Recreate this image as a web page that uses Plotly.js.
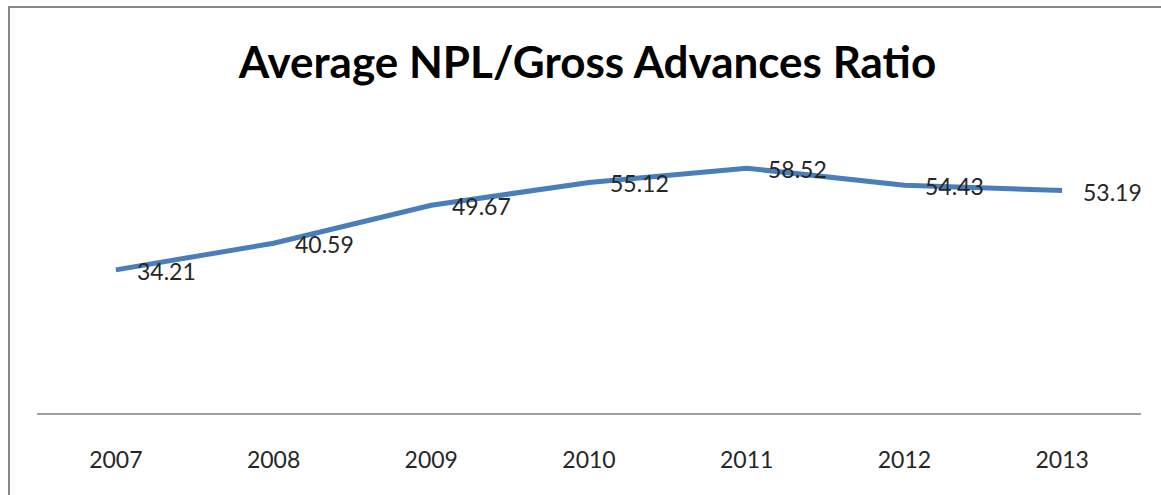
<!DOCTYPE html>
<html>
<head>
<meta charset="utf-8">
<script src="https://cdn.plot.ly/plotly-3.0.1.min.js"></script>
<style>
  html, body { margin: 0; padding: 0; background: #fff; }
  #wrap { position: relative; width: 1161px; height: 495px; overflow: hidden; }
  #chart { position: absolute; left: 0; top: 0; width: 1161px; height: 495px; }
  #frame { position: absolute; left: 8px; top: 6px; width: 1200px; height: 600px;
           border-left: 2px solid #878787; border-top: 2px solid #878787; pointer-events: none; }
</style>
</head>
<body>
<div id="wrap">
  <div id="chart"></div>
  <div id="frame"></div>
</div>
<script>
const years = ["2007", "2008", "2009", "2010", "2011", "2012", "2013"];
const ratios = [34.21, 40.59, 49.67, 55.12, 58.52, 54.43, 53.19];
const labels = ["34.21", "40.59", "49.67", "55.12", "58.52", "54.43", "53.19"];
const chartTitle = "Average NPL/Gross Advances Ratio";

const trace = {
  x: years,
  y: ratios,
  type: "scatter",
  mode: "lines",
  line: { color: "#4A7EBB", width: 5 },
  hoverinfo: "skip"
};

const annotations = labels.map((lab, i) => ({
  x: i, y: ratios[i], xref: "x", yref: "y",
  text: lab, showarrow: false,
  xanchor: "left", yanchor: "middle", xshift: 19, yshift: -1,
  font: { family: "Lato, 'Open Sans', sans-serif", size: 23, color: "#262626" }
}));

const layout = {
  width: 1161, height: 495,
  margin: { l: 37, r: 20, t: 116, b: 82 },
  paper_bgcolor: "#ffffff", plot_bgcolor: "#ffffff",
  showlegend: false,
  title: {
    text: chartTitle,
    font: { family: "Lato, 'Open Sans', sans-serif", size: 44, color: "#000000", weight: "bold" },
    xref: "container", yref: "container",
    x: 0.506, xanchor: "center",
    y: 0.873, yanchor: "middle"
  },
  xaxis: {
    type: "category",
    range: [-0.5, 6.5],
    showline: true, linecolor: "#A0A0A0", linewidth: 1.5,
    showgrid: false, zeroline: false,
    ticks: "", ticklabelstandoff: 26,
    tickfont: { family: "Lato, 'Open Sans', sans-serif", size: 23, color: "#262626" },
    fixedrange: true
  },
  yaxis: {
    range: [0, 71],
    showticklabels: false, showline: false,
    showgrid: false, zeroline: false, ticks: "",
    fixedrange: true
  },
  annotations: annotations
};

Plotly.newPlot("chart", [trace], layout, { displayModeBar: false, staticPlot: true });
</script>
</body>
</html>
